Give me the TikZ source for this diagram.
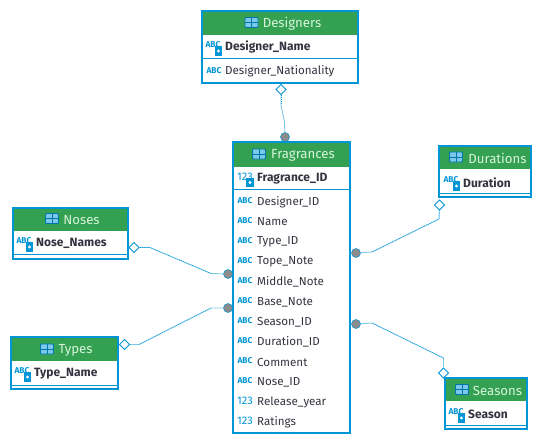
\documentclass[tikz,border=0pt]{standalone}
\usepackage{fontspec}
\setmainfont{Fira Sans}
\usetikzlibrary{positioning,shapes.geometric}
\definecolor{edgeblue}{HTML}{0095D5}
\definecolor{linkblue}{HTML}{7CC8EA}
\definecolor{headgreen}{HTML}{34A052}
\definecolor{titlegreen}{HTML}{D8F5DC}
\definecolor{rowtext}{HTML}{333340}
\tikzset{
    tablebox/.style={draw=edgeblue,line width=2.3pt,inner sep=0pt},
    headbar/.style={fill=headgreen,inner sep=0pt},
    sepline/.style={draw=edgeblue,line width=0.9pt},
    headtext/.style={font=\fontsize{13.2}{14}\selectfont,text=titlegreen,inner sep=0pt},
    rowname/.style={font=\fontsize{11.6}{13}\selectfont,text=rowtext,anchor=west,inner sep=0pt},
    keyname/.style={rowname,font=\fontsize{12}{13}\selectfont\bfseries},
    abcicon/.style={font=\fontsize{8.4}{9}\selectfont\bfseries,text=edgeblue,inner sep=0pt},
    numicon/.style={font=\fontsize{11}{12}\selectfont,text=edgeblue,inner sep=0pt},
    keybadge/.style={fill=edgeblue,minimum width=7.5pt,minimum height=9.5pt,inner sep=0pt,
        path picture={\fill[white] (path picture bounding box.center) circle (1.6pt);}},
    tableicon/.style={draw=edgeblue!80!black,fill=linkblue,line width=0.8pt,rounded corners=1pt,
        minimum width=13pt,minimum height=10pt,inner sep=0pt,
        path picture={\draw[edgeblue!80!black,line width=0.8pt]
            (path picture bounding box.west) -- (path picture bounding box.east)
            (path picture bounding box.north) -- (path picture bounding box.south);}},
    enddot/.style={circle,fill=gray!90,draw=edgeblue,line width=0.5pt,minimum size=9pt,inner sep=0pt},
    enddiamond/.style={diamond,fill=white,draw=edgeblue,line width=0.9pt,minimum size=10.5pt,inner sep=0pt},
    linksolid/.style={draw=linkblue,line width=0.9pt},
    linkdots/.style={draw=edgeblue,line width=0.6pt,dash pattern=on 0.8pt off 1.2pt}
}
\begin{document}
\begin{tikzpicture}[x=1pt,y=-1pt]
    \useasboundingbox (0,0) rectangle (542,445);

    % Designers
    \node[headbar,minimum width=156pt,minimum height=24pt] (designershead) at (280,22.5) {};
    \node[tablebox,minimum width=156pt,minimum height=72pt] (designers) at (280,47) {};
    \node[tableicon] (designersicon) at (251.5,22.5) {};
    \node[headtext] (designerstitle) at (292,23.5) {Designers};
    \node[abcicon] (dnameicon) at (213,45) {ABC};
    \node[keybadge] (dnamekey) at (218.5,51) {};
    \node[keyname] (dname) at (225,47) {Designer\_Name};
    \draw[sepline] (designers.west |- 0,58.5) -- (designers.east |- 0,58.5);
    \node[abcicon] (dnaticon) at (214,70.5) {ABC};
    \node[rowname] (dnat) at (225,71.5) {Designer\_Nationality};

    % Fragrances
    \node[headbar,minimum width=117pt,minimum height=25pt] (fraghead) at (291.5,154) {};
    \node[tablebox,minimum width=117pt,minimum height=291pt] (fragrances) at (291.5,287.5) {};
    \node[tableicon] (fragicon) at (259,154) {};
    \node[headtext] (fragtitle) at (303,155) {Fragrances};
    \node[numicon] (fidicon) at (245,177) {123};
    \node[keybadge] (fidkey) at (250,182.5) {};
    \node[keyname] (fid) at (257,178.5) {Fragrance\_ID};
    \draw[sepline] (fragrances.west |- 0,189) -- (fragrances.east |- 0,189);
    \foreach \rowname [count=\i] in {Designer\_ID,Name,Type\_ID,Tope\_Note,Middle\_Note,Base\_Note,
            Season\_ID,Duration\_ID,Comment,Nose\_ID} {
        \node[abcicon] (fabc\i) at (245,181+20*\i) {ABC};
        \node[rowname] (frow\i) at (257,182+20*\i) {\rowname};
    }
    \node[numicon] (fnum1) at (245,401) {123};
    \node[rowname] (fyear) at (257,402) {Release\_year};
    \node[numicon] (fnum2) at (245,421) {123};
    \node[rowname] (frate) at (257,422) {Ratings};

    % Noses
    \node[headbar,minimum width=115pt,minimum height=23pt] (noseshead) at (70.5,219) {};
    \node[tablebox,minimum width=115pt,minimum height=51pt] (noses) at (70.5,233.5) {};
    \node[tableicon] (nosesicon) at (52,218.5) {};
    \node[headtext] (nosestitle) at (81.5,220) {Noses};
    \node[abcicon] (nnameicon) at (24,241) {ABC};
    \node[keybadge] (nnamekey) at (29.5,247) {};
    \node[keyname] (nname) at (36,243.5) {Nose\_Names};
    \draw[sepline] (noses.west |- 0,254) -- (noses.east |- 0,254);

    % Types
    \node[headbar,minimum width=107pt,minimum height=24pt] (typeshead) at (64.5,349) {};
    \node[tablebox,minimum width=107pt,minimum height=52pt] (types) at (64.5,363) {};
    \node[tableicon] (typesicon) at (47,349) {};
    \node[headtext] (typestitle) at (75.5,350.5) {Types};
    \node[abcicon] (tnameicon) at (22,371) {ABC};
    \node[keybadge] (tnamekey) at (27.5,377) {};
    \node[keyname] (tname) at (34,373.5) {Type\_Name};
    \draw[sepline] (types.west |- 0,385) -- (types.east |- 0,385);

    % Durations
    \node[headbar,minimum width=92pt,minimum height=24pt] (durhead) at (485,157) {};
    \node[tablebox,minimum width=92pt,minimum height=51pt] (durations) at (485,171.5) {};
    \node[tableicon] (duricon) at (456,157) {};
    \node[headtext] (durtitle) at (497.5,158.5) {Durations};
    \node[abcicon] (dduricon) at (451,180) {ABC};
    \node[keybadge] (ddurkey) at (456.5,186) {};
    \node[keyname] (ddur) at (463,182.5) {Duration};
    \draw[sepline] (durations.west |- 0,193) -- (durations.east |- 0,193);

    % Seasons
    \node[headbar,minimum width=82pt,minimum height=24pt] (seahead) at (486,389) {};
    \node[tablebox,minimum width=82pt,minimum height=51pt] (seasons) at (486,403.5) {};
    \node[tableicon] (seaicon) at (462,389.5) {};
    \node[headtext] (seatitle) at (497.5,390.5) {Seasons};
    \node[abcicon] (sseaicon) at (456,412) {ABC};
    \node[keybadge] (sseakey) at (461.5,418) {};
    \node[keyname] (ssea) at (468,414.5) {Season};
    \draw[sepline] (seasons.west |- 0,425) -- (seasons.east |- 0,425);

    % relations
    \node[enddiamond] (designersend) at (281,89.5) {};
    \node[enddot] (fragtop) at (285,137) {};
    \coordinate (dbend1) at (281,105);
    \coordinate (dbend2) at (284.5,122);
    \draw[linksolid] (designersend) -- (dbend1) -- (dbend2) -- (fragtop);
    \draw[linkdots] (designersend) -- (dbend1);

    \node[enddiamond] (nosesend) at (134,247.5) {};
    \node[enddot] (fragnose) at (228,274) {};
    \coordinate (nbend1) at (150,247.5);
    \coordinate (nbend2) at (211,273.5);
    \draw[linksolid] (nosesend) -- (nbend1) -- (nbend2) -- (fragnose);
    \draw[linkdots] (nosesend) -- (nbend1) -- (nbend2);

    \node[enddiamond] (typesend) at (124.5,344.5) {};
    \node[enddot] (fragtype) at (228,308) {};
    \coordinate (tbend1) at (139,344.5);
    \coordinate (tbend2) at (211,308);
    \draw[linksolid] (typesend) -- (tbend1) -- (tbend2) -- (fragtype);
    \draw[linkdots] (tbend1) -- (tbend2);

    \node[enddiamond] (durend) at (439.5,205) {};
    \node[enddot] (fragdur) at (356,253) {};
    \coordinate (ubend1) at (439,219);
    \coordinate (ubend2) at (372,252);
    \draw[linksolid] (durend) -- (ubend1) -- (ubend2) -- (fragdur);
    \draw[linkdots] (durend) -- (ubend1) -- (ubend2);

    \node[enddiamond] (seaend) at (443.5,373) {};
    \node[enddot] (fragsea) at (356,324) {};
    \coordinate (sbend1) at (443.5,358);
    \coordinate (sbend2) at (372,323);
    \draw[linksolid] (seaend) -- (sbend1) -- (sbend2) -- (fragsea);
    \draw[linkdots] (sbend1) -- (sbend2);
\end{tikzpicture}
\end{document}
